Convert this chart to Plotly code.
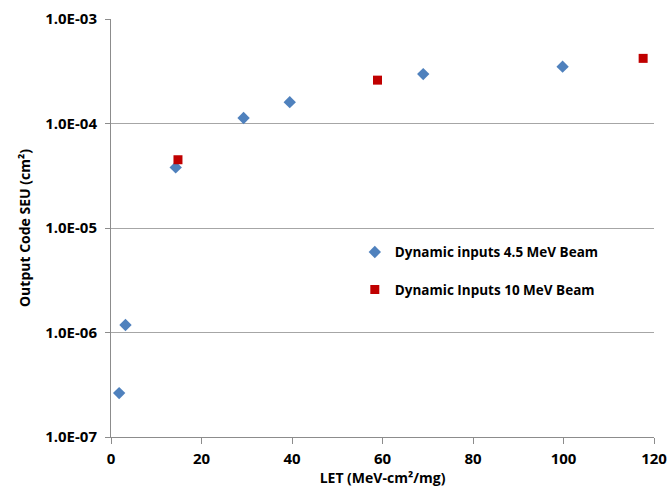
import plotly.graph_objects as go

# Data
let_45 = [1.8, 3.2, 14.3, 29.3, 39.5, 69.0, 99.8]
seu_45 = [2.63e-7, 1.18e-6, 3.8e-5, 1.13e-4, 1.6e-4, 2.97e-4, 3.5e-4]
let_10 = [14.8, 58.9, 117.6]
seu_10 = [4.5e-5, 2.6e-4, 4.2e-4]

name_45 = "Dynamic inputs 4.5 MeV Beam"
name_10 = "Dynamic Inputs 10 MeV Beam"

y_tickvals = [1e-7, 1e-6, 1e-5, 1e-4, 1e-3]
y_ticktext = ["1.0E-07", "1.0E-06", "1.0E-05", "1.0E-04", "1.0E-03"]
x_tickvals = [0, 20, 40, 60, 80, 100, 120]

FONT = "Open Sans"

fig = go.Figure()
fig.add_trace(go.Scatter(
    x=let_45, y=seu_45, mode="markers", name=name_45, legendgroup="a",
    marker=dict(symbol="diamond", size=9.5, color="#4F81BD"),
))
fig.add_trace(go.Scatter(
    x=let_10, y=seu_10, mode="markers", name=name_10, legendgroup="b",
    marker=dict(symbol="square", size=9, color="#C00000"),
))

fig.update_layout(
    width=669, height=490,
    margin=dict(l=111, r=15, t=19, b=53, autoexpand=False),
    paper_bgcolor="white", plot_bgcolor="white",
    font=dict(family=FONT, size=14, color="black"),
    showlegend=True,
    legend=dict(
        x=0.449, y=0.479, xanchor="left", yanchor="top",
        font=dict(family=FONT, size=13.5, color="black", weight="bold"),
        bgcolor="rgba(0,0,0,0)", tracegroupgap=17,
        itemwidth=30,
    ),
    xaxis=dict(
        range=[0, 120], tickvals=x_tickvals,
        showgrid=False, zeroline=False, automargin=False,
        showline=True, linecolor="#8c8c8c", linewidth=1,
        ticks="outside", ticklen=6, tickcolor="#8c8c8c",
        ticklabelstandoff=2,
        tickfont=dict(family=FONT, size=15, weight="bold"),
        title=dict(text="LET (MeV-cm²/mg)", standoff=4,
                   font=dict(family=FONT, size=14, weight="bold")),
    ),
    yaxis=dict(
        type="log", range=[-7, -3],
        tickvals=y_tickvals, ticktext=y_ticktext,
        showgrid=True, gridcolor="#a6a6a6", gridwidth=1,
        zeroline=False, automargin=False,
        showline=True, linecolor="#8c8c8c", linewidth=1,
        ticks="outside", ticklen=5, tickcolor="#8c8c8c",
        ticklabelstandoff=5,
        tickfont=dict(family=FONT, size=15, weight="bold"),
        title=dict(text="Output Code SEU (cm²)", standoff=11,
                   font=dict(family=FONT, size=14, weight="bold")),
    ),
)

fig.write_html("out.html")
